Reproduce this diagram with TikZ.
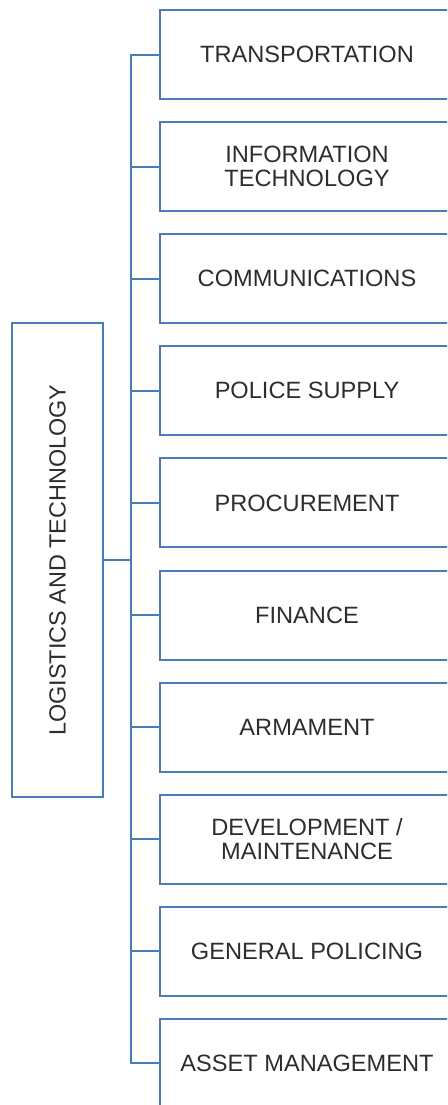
\documentclass[tikz,border=0pt]{standalone}
\usepackage{fontspec}
\setmainfont{Liberation Sans}
\definecolor{orgblue}{RGB}{72,126,182}
\definecolor{orgtext}{RGB}{45,45,45}
\tikzset{
  unit/.style={draw=orgblue, line width=1pt, minimum width=147pt, minimum height=44.5pt,
    align=center, text=orgtext, font=\fontsize{11.8}{12.2}\selectfont},
  link/.style={draw=orgblue, line width=1pt}
}
\begin{document}
\begin{tikzpicture}[x=0.5pt,y=-0.5pt]
\clip (0,0) rectangle (447,1105);

\node [unit, minimum width=45.5pt, minimum height=237pt] (lt) at (57.5,560) {};
\node [rotate=90, text=orgtext, font=\fontsize{11.7}{12}\selectfont] (ltlabel) at (lt.center) {LOGISTICS AND TECHNOLOGY};

\coordinate (spine) at (131,0);

\foreach \name [count=\i] in {TRANSPORTATION, {INFORMATION\\TECHNOLOGY}, COMMUNICATIONS,
  POLICE SUPPLY, PROCUREMENT, FINANCE, ARMAMENT, {DEVELOPMENT /\\MAINTENANCE},
  GENERAL POLICING, ASSET MANAGEMENT}
{
  \node [unit] (b\i) at (307,{54.5+112.1*(\i-1)}) {\name};
  \draw [link] (b\i.west) -- (b\i.west -| spine);
}

\draw [link] (b1.west) -- (b1.west -| spine) -- (b10.west -| spine) -- (b10.west);
\draw [link] (lt.east) -- (lt.east -| spine);
%\node at (current bounding box.north) {Logistics and Technology};
\end{tikzpicture}
\end{document}
